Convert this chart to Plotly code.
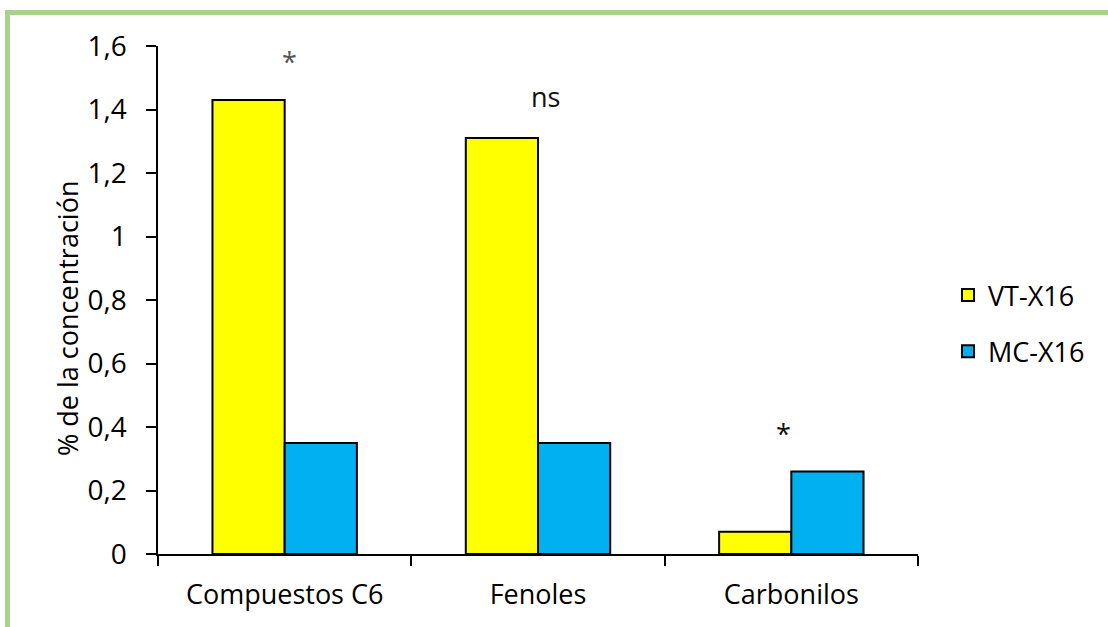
import plotly.graph_objects as go

categories = ["Compuestos C6", "Fenoles", "Carbonilos"]
vt_x16 = [1.43, 1.31, 0.07]
mc_x16 = [0.35, 0.35, 0.26]
series_names = ["VT-X16", "MC-X16"]
sig_labels = ["*", "ns", "*"]
sig_y = [1.55, 1.44, 0.38]
sig_colors = ["#555555", "#111111", "#111111"]
sig_shift = [5, 7, -8]

FONT = "Open Sans"
FS = 27

fig = go.Figure()
fig.add_trace(go.Bar(x=categories, y=vt_x16, name=series_names[0], legendgroup="a",
                     marker=dict(color="#FFFF00", line=dict(color="black", width=2))))
fig.add_trace(go.Bar(x=categories, y=mc_x16, name=series_names[1], legendgroup="b",
                     marker=dict(color="#00B0F0", line=dict(color="black", width=2))))

for c, t, yy, col, sh in zip(categories, sig_labels, sig_y, sig_colors, sig_shift):
    fig.add_annotation(x=c, y=yy, text=t, showarrow=False, xshift=sh,
                       font=dict(family=FONT, size=FS, color=col))

fig.add_annotation(xref="paper", yref="paper", x=(68 - 158) / 760, y=(554 - 319) / 508,
                   xanchor="center", yanchor="middle",
                   text="% de la concentración", textangle=-90, showarrow=False,
                   font=dict(family=FONT, size=FS, color="black"))

fig.add_shape(type="rect", xref="paper", yref="paper",
              x0=(7.5 - 158) / 760, y0=-1, x1=2, y1=(554 - 12.5) / 508,
              line=dict(color="#A9D18E", width=5), fillcolor="rgba(0,0,0,0)")

fig.update_layout(
    width=1108, height=627,
    margin=dict(l=158, r=190, t=46, b=73),
    paper_bgcolor="white", plot_bgcolor="white",
    barmode="group", bargap=0.43, bargroupgap=0,
    font=dict(family=FONT, size=FS, color="black"),
    legend=dict(x=(948 - 158) / 760, xanchor="left", y=(554 - 271) / 508, yanchor="top",
                font=dict(family=FONT, size=FS, color="black"),
                tracegroupgap=18, traceorder="grouped", itemwidth=30),
    showlegend=True,
    separators=",.",
)
fig.update_xaxes(showline=True, linecolor="black", linewidth=1.5,
                 ticks="outside", ticklen=10, tickcolor="black", tickwidth=1.5,
                 tickson="boundaries", showgrid=False, tickfont=dict(size=FS),
                 ticklabelstandoff=16, range=[-0.5, 2.5])
fig.update_yaxes(range=[0, 1.6], dtick=0.2, showline=True, linecolor="black", linewidth=1.5,
                 ticks="outside", ticklen=10, tickcolor="black", tickwidth=1.5,
                 showgrid=False, zeroline=False,
                 tickformat=".1~f", tickfont=dict(size=FS + 1), ticklabelstandoff=14)

fig.write_html("out.html", config={"displayModeBar": False},
               post_script="document.body.style.margin='0';")
